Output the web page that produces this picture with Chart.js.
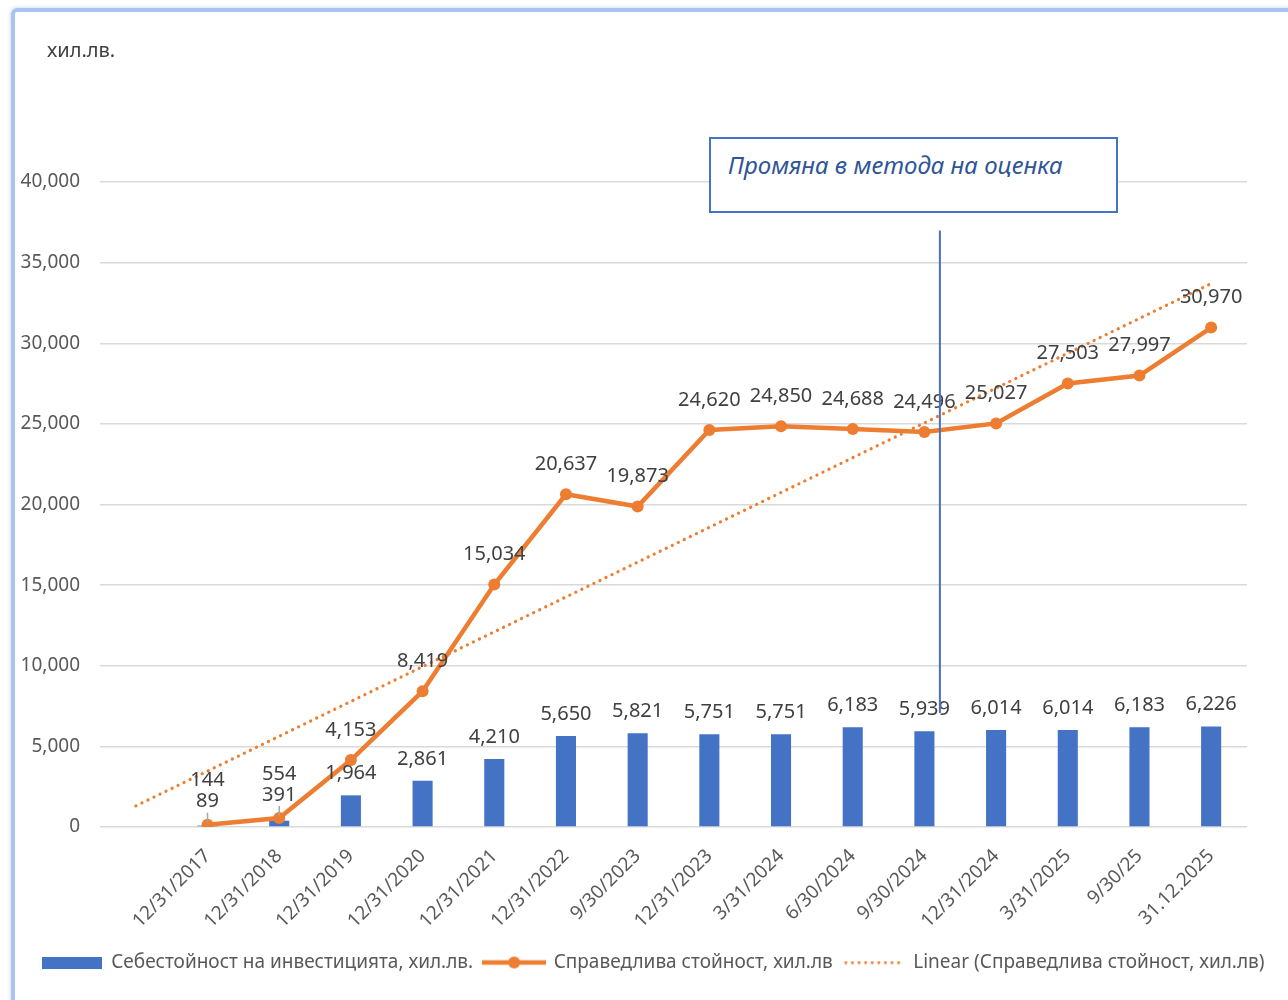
<!DOCTYPE html>
<html><head><meta charset="utf-8">
<script src="https://cdn.jsdelivr.net/npm/chart.js@4.4.1/dist/chart.umd.min.js"></script>
<style>
html,body{margin:0;padding:0;background:#fff;width:1288px;height:1000px;overflow:hidden;}
#frame{position:absolute;left:11px;top:8px;width:1300px;height:1010px;border:4px solid #A9C3F2;border-radius:6px;box-shadow:0 0 4px rgba(120,150,220,0.45);}
#wrap{position:absolute;left:0;top:0;width:1288px;height:1000px;}
#unit{position:absolute;left:47px;top:36px;font:20px 'Noto Sans';color:#404040;}
#note{position:absolute;left:709px;top:137px;width:409px;height:76px;border:2px solid #4472C4;box-sizing:border-box;background:#fff;}
#note span{position:absolute;left:17px;top:9px;font:italic 24px 'Noto Sans';color:#2F5597;white-space:nowrap;}
</style></head>
<body>
<div id="frame"></div>
<div id="wrap"><canvas id="c" width="1288" height="1000"></canvas></div>
<div id="unit">хил.лв.</div>
<div id="note"><span>Промяна в метода на оценка</span></div>
<script>
const categories = ['12/31/2017','12/31/2018','12/31/2019','12/31/2020','12/31/2021','12/31/2022','9/30/2023','12/31/2023','3/31/2024','6/30/2024','9/30/2024','12/31/2024','3/31/2025','9/30/25','31.12.2025'];
const costValues = [89,391,1964,2861,4210,5650,5821,5751,5751,6183,5939,6014,6014,6183,6226];
const fairValues = [144,554,4153,8419,15034,20637,19873,24620,24850,24688,24496,25027,27503,27997,30970];
const trendStart = 1310;   // trend line value at the empty leading slot
const trendEnd = 33700;    // trend line value at the last category
const yTicks = [0,5000,10000,15000,20000,25000,30000,35000,40000];
const seriesNames = ['Себестойност на инвестицията, хил.лв.','Справедлива стойност, хил.лв','Linear (Справедлива стойност, хил.лв)'];
const changeMarker = {index: 11, frac: 0.216, top: 37000, bottom: 7070};

const BLUE = '#4472C4', ORANGE = '#ED7D31';
const labels = [''].concat(categories);
const costData = [null].concat(costValues);
const fairData = [null].concat(fairValues);
const trendData = labels.map((_, i) => i === 0 ? trendStart : (i === labels.length - 1 ? trendEnd : null));

function swatch(w, h, draw){ const c = document.createElement('canvas'); c.width = w; c.height = h; draw(c.getContext('2d')); return c; }
const swBar = swatch(60, 12, g => { g.fillStyle = BLUE; g.fillRect(0, 0, 60, 12); });
const swLine = swatch(64, 14, g => { g.strokeStyle = ORANGE; g.lineWidth = 4.5; g.beginPath(); g.moveTo(0, 7); g.lineTo(64, 7); g.stroke(); g.fillStyle = ORANGE; g.beginPath(); g.arc(32, 7, 6, 0, Math.PI * 2); g.fill(); });
const swTrend = swatch(60, 4, g => { g.fillStyle = ORANGE; for (let x = 1; x < 60; x += 6.6) { g.beginPath(); g.arc(x + 1, 2, 1.5, 0, Math.PI * 2); g.fill(); } });

const fmt = v => v.toLocaleString('en-US');

const valueLabels = {
  id: 'valueLabels',
  afterDatasetsDraw(chart) {
    const ctx = chart.ctx;
    const bars = chart.getDatasetMeta(0), line = chart.getDatasetMeta(1);
    const bd = chart.data.datasets[0].data, ld = chart.data.datasets[1].data;
    ctx.save();
    ctx.font = '20px "Noto Sans"';
    ctx.fillStyle = '#404040';
    ctx.textAlign = 'center';
    ctx.textBaseline = 'middle';
    for (let i = 0; i < bd.length; i++) {
      if (bd[i] == null) continue;
      const b = bars.data[i], p = line.data[i];
      if (Math.abs(p.y - b.y) < 20) {
        ctx.fillText(fmt(ld[i]), p.x, p.y - 44);
        ctx.fillText(fmt(bd[i]), p.x, p.y - 23);
        ctx.strokeStyle = '#A6A6A6'; ctx.lineWidth = 1.5;
        ctx.beginPath(); ctx.moveTo(p.x, p.y - 12); ctx.lineTo(p.x, p.y - 2); ctx.stroke();
      } else {
        ctx.fillText(fmt(bd[i]), b.x, b.y - 22);
        ctx.fillText(fmt(ld[i]), p.x, p.y - 30);
      }
    }
    // valuation-method change marker
    const xs = chart.scales.x, ys = chart.scales.y;
    const x0 = xs.getPixelForValue(changeMarker.index), x1 = xs.getPixelForValue(changeMarker.index + 1);
    const mx = x0 + (x1 - x0) * changeMarker.frac;
    ctx.strokeStyle = BLUE; ctx.lineWidth = 2;
    ctx.beginPath(); ctx.moveTo(mx, ys.getPixelForValue(changeMarker.top)); ctx.lineTo(mx, ys.getPixelForValue(changeMarker.bottom)); ctx.stroke();
    ctx.restore();
  }
};

new Chart(document.getElementById('c'), {
  type: 'bar',
  data: {
    labels: labels,
    datasets: [
      { type: 'bar', label: seriesNames[0], data: costData, backgroundColor: BLUE, barPercentage: 0.28, categoryPercentage: 1, order: 3 },
      { type: 'line', label: seriesNames[1], data: fairData, borderColor: ORANGE, backgroundColor: ORANGE, borderWidth: 4.5, pointRadius: 6, pointBackgroundColor: ORANGE, pointBorderWidth: 0, tension: 0, order: 1 },
      { type: 'line', label: seriesNames[2], data: trendData, borderColor: ORANGE, borderWidth: 3.2, borderDash: [0.1, 6.6], borderCapStyle: 'round', pointRadius: 0, spanGaps: true, order: 2 }
    ]
  },
  options: {
    responsive: false,
    animation: false,
    layout: { padding: { left: 18, right: 0, top: 182, bottom: 18 } },
    plugins: {
      tooltip: { enabled: false },
      legend: {
        position: 'bottom',
        labels: {
          usePointStyle: true,
          pointStyleWidth: 60,
          padding: 11,
          color: '#595959',
          font: { family: 'Noto Sans', size: 19 },
          generateLabels: chart => {
            const sw = [swBar, swLine, swTrend];
            return chart.data.datasets.map((d, i) => ({ text: d.label, pointStyle: sw[i], fontColor: '#595959', datasetIndex: i, hidden: false, lineWidth: 0, strokeStyle: 'transparent', fillStyle: 'transparent' }));
          }
        }
      }
    },
    scales: {
      x: {
        grid: { display: false, drawTicks: false },
        border: { display: false },
        ticks: { color: '#595959', font: { family: 'Noto Sans', size: 19 }, minRotation: 45, maxRotation: 45, autoSkip: false, padding: 18 },
        afterFit: s => { s.height = 115; }
      },
      y: {
        min: 0, max: 40000,
        afterBuildTicks: s => { s.ticks = yTicks.map(v => ({ value: v })); },
        grid: { color: '#D9D9D9', lineWidth: 1.5, drawTicks: false },
        border: { display: false },
        ticks: { color: '#595959', font: { family: 'Noto Sans', size: 19 }, padding: 20, callback: v => fmt(v) },
        afterFit: s => { s.width = 82; }
      },
      yPad: {
        position: 'right',
        display: true,
        grid: { display: false, drawTicks: false },
        border: { display: false },
        ticks: { display: false },
        afterFit: s => { s.width = 41; }
      }
    }
  },
  plugins: [valueLabels]
});
</script>
</body></html>
